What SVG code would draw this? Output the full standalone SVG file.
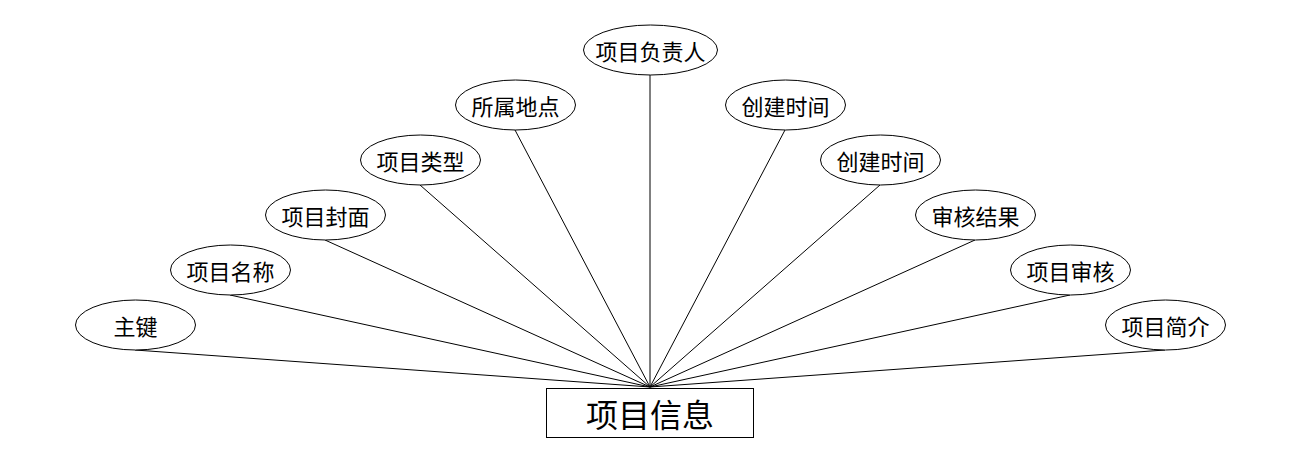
<svg xmlns="http://www.w3.org/2000/svg" width="1300" height="468" viewBox="0 0 1300 468">
<style>
.e{fill:#fff;stroke:#000;stroke-width:1}
.t{font-family:"Noto Sans CJK SC","Noto Sans",sans-serif;font-size:22px;text-anchor:middle;dominant-baseline:central;fill:#000}
.c line{stroke:#000;stroke-width:1}
</style>
<rect width="1300" height="468" fill="#fff"/>
<g class="c" id="connectors">
<line x1="135" y1="350" x2="650" y2="387"/>
<line x1="230" y1="295" x2="650" y2="387"/>
<line x1="325" y1="240" x2="650" y2="387"/>
<line x1="420" y1="185" x2="650" y2="387"/>
<line x1="515" y1="130" x2="650" y2="387"/>
<line x1="650" y1="75" x2="650" y2="387"/>
<line x1="785" y1="130" x2="650" y2="387"/>
<line x1="880" y1="185" x2="650" y2="387"/>
<line x1="975" y1="240" x2="650" y2="387"/>
<line x1="1070" y1="295" x2="650" y2="387"/>
<line x1="1165" y1="350" x2="650" y2="387"/>
</g>
<g id="n1"><ellipse class="e" cx="135.5" cy="325" rx="60" ry="25"/><text class="t" x="135.5" y="325">主键</text></g>
<g id="n2"><ellipse class="e" cx="230.5" cy="270" rx="60" ry="25"/><text class="t" x="230.5" y="270">项目名称</text></g>
<g id="n3"><ellipse class="e" cx="325.5" cy="215" rx="60" ry="25"/><text class="t" x="325.5" y="215">项目封面</text></g>
<g id="n4"><ellipse class="e" cx="420.5" cy="160" rx="60" ry="25"/><text class="t" x="420.5" y="160">项目类型</text></g>
<g id="n5"><ellipse class="e" cx="515.5" cy="105" rx="60" ry="25"/><text class="t" x="515.5" y="105">所属地点</text></g>
<g id="n6"><ellipse class="e" cx="650.5" cy="50" rx="67" ry="25"/><text class="t" x="650.5" y="50">项目负责人</text></g>
<g id="n7"><ellipse class="e" cx="785.5" cy="105" rx="60" ry="25"/><text class="t" x="785.5" y="105">创建时间</text></g>
<g id="n8"><ellipse class="e" cx="880.5" cy="160" rx="60" ry="25"/><text class="t" x="880.5" y="160">创建时间</text></g>
<g id="n9"><ellipse class="e" cx="975.5" cy="215" rx="60" ry="25"/><text class="t" x="975.5" y="215">审核结果</text></g>
<g id="n10"><ellipse class="e" cx="1070.5" cy="270" rx="60" ry="25"/><text class="t" x="1070.5" y="270">项目审核</text></g>
<g id="n11"><ellipse class="e" cx="1165.5" cy="325" rx="60" ry="25"/><text class="t" x="1165.5" y="325">项目简介</text></g>
<g id="main"><rect x="546.5" y="388.5" width="207" height="49" fill="#fff" stroke="#000" stroke-width="1"/><text class="t" x="650" y="413" style="font-size:32px">项目信息</text></g>
</svg>
